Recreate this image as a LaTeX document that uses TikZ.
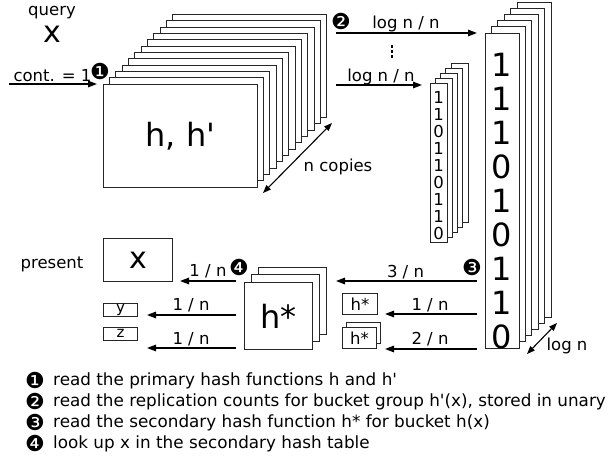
\documentclass[tikz,border=0pt]{standalone}
\usepackage{fontspec}
\setmainfont{DejaVu Sans}
\usetikzlibrary{arrows.meta}
\newcommand{\apos}{\textquotesingle}
\begin{document}
\begin{tikzpicture}[x=1pt,y=-1pt,
 font=\fontsize{16.5}{20}\selectfont,
 card/.style={draw=black!85,line width=1pt,fill=white},
 box/.style={card,inner sep=0pt,anchor=north west},
 arr/.style={-{Triangle[length=9pt,width=6.5pt]},line width=1.4pt},
 dbl/.style={{Triangle[length=8pt,width=6pt]}-{Triangle[length=8pt,width=6pt]},line width=1.1pt},
 txt/.style={inner sep=0pt,anchor=base},
 badge/.style={inner sep=0pt,font=\fontsize{22}{22}\selectfont},
 legend/.style={inner sep=0pt,anchor=base west,font=\fontsize{16.8}{20}\selectfont}]

\useasboundingbox[fill=white] (0,0) rectangle (613,458);

% query
\node[txt] (q) at (52,15) {query};
\node[txt,font=\fontsize{30}{30}\selectfont] (qx) at (52.5,42) {x};

% cont arrow
\coordinate (c0) at (9,84);
\coordinate (c1) at (97,84);
\draw[arr] (c0) -- (c1);
\node[txt] (contl) at (52.5,81) {cont. = 1};
\node[badge] (b1) at (100,71) {❶};

% h, h' stack
\foreach \i in {11,10,...,1}
  \draw[card] ({103+6.36*\i},{84-6.33*\i}) rectangle +(154,103);
\node[box,minimum width=154pt,minimum height=103pt,font=\fontsize{32}{32}\selectfont] (hh) at (103,84) {h, h\apos};

% n copies
\coordinate (n0) at (263,193);
\coordinate (n1) at (332,123);
\draw[dbl] (n0) -- (n1);
\node[txt] (ncl) at (338,171) {n copies};

% step 2 arrows
\coordinate (a2s) at (336,33);
\coordinate (a2e) at (477,33);
\draw[arr] (a2s) -- (a2e);
\node[txt] (l2a) at (406,28) {log n / n};
\node[badge] (b2) at (341,21) {❷};
\foreach \yy in {45,50,55} \fill (390.8,\yy) rectangle +(2.6,2.6);
\coordinate (a2bs) at (336,85);
\coordinate (a2be) at (422,85);
\draw[arr] (a2bs) -- (a2be);
\node[txt] (l2b) at (381,81) {log n / n};

% small column
\foreach \i in {4,3,2,1}
  \draw[card] ({430+5.25*\i},{83-5*\i}) rectangle +(17,159);
\node[box,minimum width=17pt,minimum height=159pt] (sc) at (430,83) {};
\node[align=center,inner sep=0pt,font=\fontsize{16.5}{16.9}\selectfont] (scd) at (438.5,165.5) {1\\1\\0\\1\\1\\0\\1\\1\\0};

% big column
\foreach \i in {5,4,...,1}
  \draw[card] ({485+6.4*\i},{33-6.2*\i}) rectangle +(34,315);
\node[box,minimum width=34pt,minimum height=315pt] (bc) at (485,33) {};
\node[align=center,inner sep=0pt,font=\fontsize{32}{34}\selectfont] (bcd) at (502,201.5) {1\\1\\1\\0\\1\\0\\1\\1\\0};

% log n
\coordinate (g0) at (527,354);
\coordinate (g1) at (557,323);
\draw[dbl] (g0) -- (g1);
\node[txt] (lgn) at (567,350) {log n};

% step 3 arrows
\coordinate (r1s) at (477,281);
\coordinate (r1e) at (336,281);
\draw[arr] (r1s) -- (r1e);
\node[txt] (l3a) at (405.5,277) {3 / n};
\node[badge] (b3) at (472,267) {❸};
\coordinate (r2s) at (477,314);
\coordinate (r2e) at (385,314);
\draw[arr] (r2s) -- (r2e);
\node[txt] (l3b) at (430,310) {1 / n};
\coordinate (r3s) at (477,349);
\coordinate (r3e) at (385,349);
\draw[arr] (r3s) -- (r3e);
\node[txt] (l3c) at (430,344) {2 / n};

% small h* boxes
\node[box,minimum width=35pt,minimum height=21pt] (hs1) at (342,293) {h*};
\draw[card] (346.5,322.5) rectangle +(34,21);
\node[box,minimum width=34pt,minimum height=21pt] (hs2) at (342,327) {h*};

% big h* stack
\foreach \i in {2,1}
  \draw[card] ({244+7*\i},{282-7.5*\i}) rectangle +(68,67);
\node[box,minimum width=68pt,minimum height=67pt,font=\fontsize{32}{32}\selectfont] (hb) at (244,282) {h*};
\node[badge] (b4) at (239,267) {❹};

% step 4 arrows
\coordinate (s1s) at (236,281);
\coordinate (s1e) at (180,281);
\draw[arr] (s1s) -- (s1e);
\node[txt] (l4a) at (208,276) {1 / n};
\coordinate (s2s) at (236,315);
\coordinate (s2e) at (147,315);
\draw[arr] (s2s) -- (s2e);
\node[txt] (l4b) at (191,310) {1 / n};
\coordinate (s3s) at (236,348);
\coordinate (s3e) at (147,348);
\draw[arr] (s3s) -- (s3e);
\node[txt] (l4c) at (191,344) {1 / n};

% result boxes
\node[txt] (pres) at (52,268) {present};
\node[box,minimum width=69pt,minimum height=43pt,font=\fontsize{30}{30}\selectfont] (px) at (103,238) {x};
\node[box,minimum width=34pt,minimum height=12.5pt,font=\fontsize{15}{15}\selectfont] (yb) at (103,303) {y};
\node[box,minimum width=34pt,minimum height=12.5pt,font=\fontsize{15}{15}\selectfont] (zb) at (103,327) {z};

% legend
\node[badge] (lb1) at (35,380) {❶};
\node[legend] (lt1) at (53,385) {read the primary hash functions h and h\apos};
\node[badge] (lb2) at (35,401) {❷};
\node[legend] (lt2) at (53,406) {read the replication counts for bucket group h\apos(x), stored in unary};
\node[badge] (lb3) at (35,422) {❸};
\node[legend] (lt3) at (53,427) {read the secondary hash function h* for bucket h(x)};
\node[badge] (lb4) at (35,443) {❹};
\node[legend] (lt4) at (53,448) {look up x in the secondary hash table};
\end{tikzpicture}
\end{document}
